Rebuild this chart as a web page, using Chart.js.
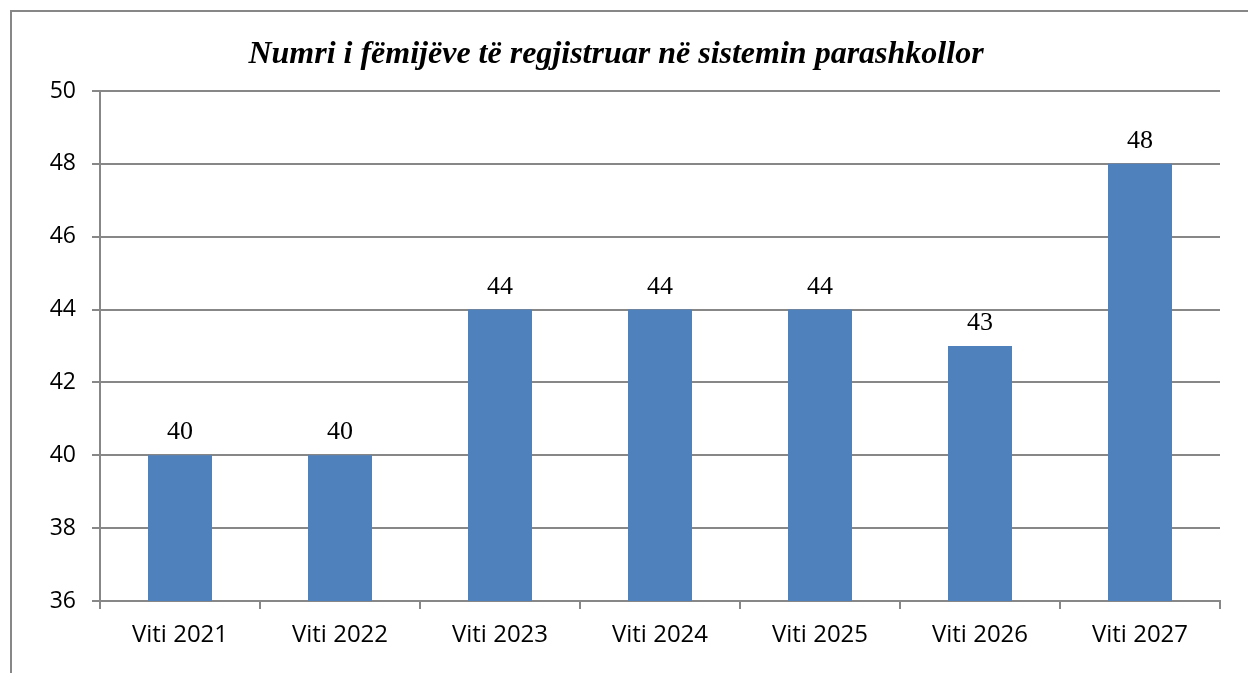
<!DOCTYPE html>
<html>
<head>
<meta charset="utf-8">
<script src="https://cdn.jsdelivr.net/npm/chart.js@4"></script>
<style>
  html, body { margin: 0; padding: 0; background: #fff; }
  #wrap { width: 1248px; height: 673px; position: relative; }
</style>
</head>
<body>
<div id="wrap"><canvas id="myChart" width="1248" height="673"></canvas></div>
<script>
// data
const years = ['Viti 2021', 'Viti 2022', 'Viti 2023', 'Viti 2024', 'Viti 2025', 'Viti 2026', 'Viti 2027'];
const children = [40, 40, 44, 44, 44, 43, 48];
const titleText = 'Numri i fëmijëve të regjistruar në sistemin parashkollor';
const yMin = 36, yMax = 50, yStep = 2;

const gray = '#878787';

// outer frame + title
const framePlugin = {
    id: 'frame',
    beforeDraw(chart) {
        const c = chart.ctx;
        c.save();
        c.fillStyle = '#fff';
        c.fillRect(0, 0, chart.width, chart.height);
        c.strokeStyle = gray;
        c.lineWidth = 2;
        c.beginPath();
        c.moveTo(11, chart.height);
        c.lineTo(11, 11);
        c.lineTo(chart.width, 11);
        c.stroke();
        c.fillStyle = '#000';
        c.font = 'italic bold 32px "Liberation Serif", "Times New Roman", serif';
        c.textAlign = 'center';
        c.textBaseline = 'alphabetic';
        c.fillText(titleText, 616, 63);
        c.restore();
    }
};

// value labels above bars
const valueLabels = {
    id: 'valueLabels',
    afterDatasetsDraw(chart) {
        const c = chart.ctx;
        const meta = chart.getDatasetMeta(0);
        c.save();
        c.fillStyle = '#000';
        c.font = '26px "Liberation Serif", "Times New Roman", serif';
        c.textAlign = 'center';
        c.textBaseline = 'alphabetic';
        meta.data.forEach((bar, i) => {
            c.fillText(String(children[i]), bar.x, bar.y - 16);
        });
        c.restore();
    }
};

const ctx = document.getElementById('myChart').getContext('2d');
const myChart = new Chart(ctx, {
    type: 'bar',
    data: {
        labels: years,
        datasets: [{
            data: children,
            backgroundColor: '#4F81BD',
            borderWidth: 0,
            barPercentage: 0.4,
            categoryPercentage: 1
        }]
    },
    options: {
        responsive: false,
        animation: false,
        layout: { padding: { top: 91, right: 28, left: 0, bottom: 0 } },
        plugins: {
            legend: { display: false },
            title: { display: false },
            tooltip: { enabled: false }
        },
        scales: {
            x: {
                afterFit(s) { s.height = 72; },
                border: { color: gray, width: 2 },
                grid: {
                    offset: true,
                    drawOnChartArea: false,
                    color: gray,
                    lineWidth: 2,
                    tickLength: 8
                },
                ticks: {
                    color: '#000',
                    padding: 12,
                    font: { family: '"Open Sans", sans-serif', size: 24 }
                }
            },
            y: {
                min: yMin,
                max: yMax,
                afterFit(s) { s.width = 100; },
                border: { color: gray, width: 2 },
                grid: {
                    color: gray,
                    lineWidth: 2,
                    tickLength: 8
                },
                ticks: {
                    stepSize: yStep,
                    color: '#000',
                    padding: 16,
                    font: { family: '"Open Sans", sans-serif', size: 23 }
                }
            }
        }
    },
    plugins: [framePlugin, valueLabels]
});
</script>
</body>
</html>
